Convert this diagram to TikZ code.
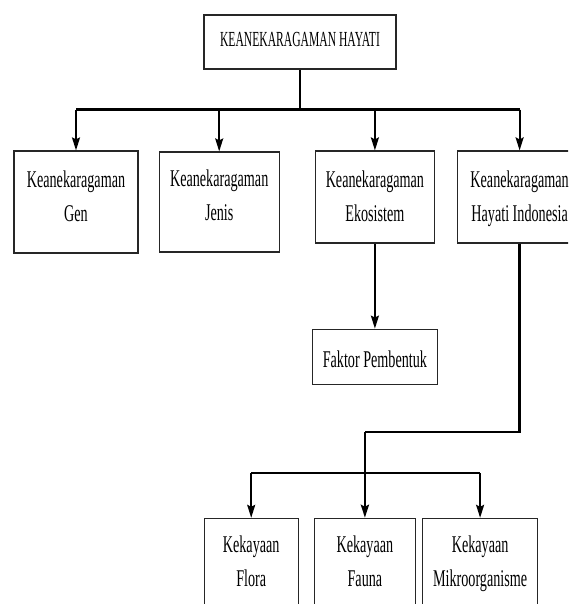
\documentclass[tikz,border=0pt]{standalone}
\usepackage{fontspec}
\setmainfont[FakeStretch=0.59]{Liberation Serif}
\newfontfamily\titlefont[FakeStretch=0.54]{Liberation Serif}
\usetikzlibrary{arrows.meta,positioning}

\begin{document}
\begin{tikzpicture}[
    x=1pt, y=1pt,
    node distance=20pt and 20pt,
    box/.style={rectangle, draw=black!85, line width=1.2pt, align=center, inner sep=0pt, minimum width=120pt, minimum height=92pt, font=\fontsize{24}{34}\selectfont, text height=48pt, text depth=0pt},
    titlebox/.style={box, minimum width=192pt, minimum height=54pt, font=\titlefont\fontsize{21.5}{26}\selectfont, text height=15pt, text depth=5pt},
    bar/.style={line width=2.8pt},
    arrow/.style={-{Stealth[length=13pt, width=8pt, inset=2pt]}, line width=1.8pt}
]
    \useasboundingbox (0,0) rectangle (568,-604);
    \clip (0,0) rectangle (568,-604);

    \node [titlebox] (hayati) at (300,-42) {KEANEKARAGAMAN HAYATI};

    \node [box, minimum width=124pt, minimum height=102pt, text depth=10pt] (gen) at (76,-202) {Keanekaragaman\\Gen};
    \node [box, minimum height=100pt, text depth=12pt, right=20pt of gen] (jenis) {Keanekaragaman\\Jenis};
    \node [box, minimum width=119pt, right=35pt of jenis, yshift=5pt] (eko) {Keanekaragaman\\Ekosistem};
    \node [box, minimum width=124pt, right=22pt of eko] (indo) {Keanekaragaman\\Hayati Indonesia};

    \node [box, minimum width=125pt, minimum height=55pt, text height=21pt, text depth=0pt, below=85pt of eko] (faktor) {Faktor Pembentuk};

    \node [box, minimum width=101pt, text depth=4pt, below=133pt of faktor, xshift=-10pt] (fauna) {Kekayaan\\Fauna};
    \node [box, minimum width=94pt, text depth=4pt, left=15pt of fauna] (flora) {Kekayaan\\Flora};
    \node [box, minimum width=115pt, text depth=4pt, right=6pt of fauna] (mikro) {Kekayaan\\Mikroorganisme};

    % top level
    \draw [bar] (hayati.south) -- ++(0,-40) coordinate (fork);
    \draw [bar] (gen.north |- fork) -- (indo.north |- fork);
    \foreach \n in {gen,jenis,eko,indo}
        \draw [arrow] (\n.north |- fork) -- (\n.north);

    \draw [arrow] (eko) -- (faktor);

    % kekayaan
    \coordinate (turn) at (fauna.north |- 0,-432);
    \coordinate (fork2) at (fauna.north |- 0,-473);
    \draw [bar] (indo.south) |- (turn);
    \draw [arrow, line width=2.6pt] (turn) -- (fauna.north);
    \draw [bar] (flora.north |- fork2) -- (mikro.north |- fork2);
    \foreach \n in {flora,mikro}
        \draw [arrow] (\n.north |- fork2) -- (\n.north);
\end{tikzpicture}
\end{document}
